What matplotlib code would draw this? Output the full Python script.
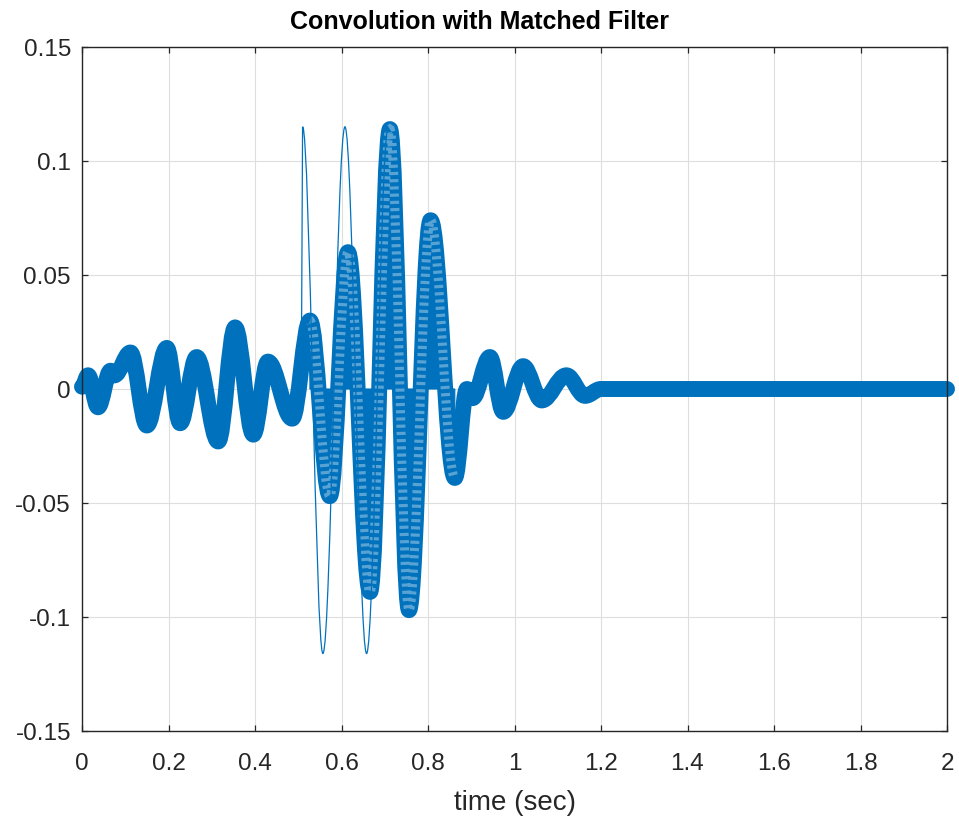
import matplotlib
matplotlib.use("Agg")
import matplotlib.pyplot as plt
from matplotlib.path import Path
from matplotlib.patches import PathPatch

plt.rcParams["font.family"] = ["Liberation Sans", "DejaVu Sans"]

# local extrema of the filter output (circle markers)
out_t = [0.000, 0.014, 0.037, 0.066, 0.075, 0.112, 0.150, 0.196, 0.227, 0.265,
         0.315, 0.354, 0.396, 0.430, 0.486, 0.527, 0.573, 0.615, 0.666, 0.712,
         0.756, 0.806, 0.862, 0.890, 0.903, 0.943, 0.974, 1.020, 1.063, 1.120,
         1.163, 1.200, 2.000]
out_v = [0.001, 0.006, -0.008, 0.008, 0.006, 0.016, -0.016, 0.018, -0.015, 0.014,
         -0.023, 0.027, -0.020, 0.012, -0.013, 0.030, -0.047, 0.060, -0.089, 0.114,
         -0.097, 0.074, -0.039, 0.000, -0.004, 0.014, -0.010, 0.010, -0.005, 0.006,
         -0.003, 0.000, 0.000]

# thin line (matched filter), extrema
mf_t = [0.500, 0.507, 0.510, 0.557, 0.608, 0.658, 0.708]
mf_v = [0.000, 0.000, 0.115, -0.116, 0.115, -0.116, 0.115]

x_ticks = [0, 0.2, 0.4, 0.6, 0.8, 1, 1.2, 1.4, 1.6, 1.8, 2]
x_labels = ["0", "0.2", "0.4", "0.6", "0.8", "1", "1.2", "1.4", "1.6", "1.8", "2"]
y_ticks = [-0.15, -0.1, -0.05, 0, 0.05, 0.1, 0.15]
y_labels = ["-0.15", "-0.1", "-0.05", "0", "0.05", "0.1", "0.15"]

blue = "#0072BD"


def smooth_path(ts, vs, closed_to_zero=False):
    # cubic bezier through the extrema, flat tangent at each one
    verts = [(ts[0], vs[0])]
    codes = [Path.MOVETO]
    for i in range(1, len(ts)):
        dt = ts[i] - ts[i - 1]
        if dt < 0.005:
            verts.append((ts[i], vs[i]))
            codes.append(Path.LINETO)
            continue
        verts += [(ts[i - 1] + 0.36 * dt, vs[i - 1]),
                  (ts[i] - 0.36 * dt, vs[i]),
                  (ts[i], vs[i])]
        codes += [Path.CURVE4] * 3
    if closed_to_zero:
        verts += [(ts[-1], 0), (ts[0], 0), (ts[0], vs[0])]
        codes += [Path.LINETO, Path.LINETO, Path.CLOSEPOLY]
    return Path(verts, codes)


fig = plt.figure(figsize=(9.59, 8.2), dpi=100)
ax = fig.add_axes([82 / 959, 88 / 820, 865 / 959, 684 / 820])

# solid lobes in the middle of the pulse
i0 = out_t.index(0.527)
i1 = out_t.index(0.862)
fill_path = smooth_path(out_t[i0:i1 + 1], out_v[i0:i1 + 1], closed_to_zero=True)
ax.add_patch(PathPatch(fill_path, facecolor=blue, edgecolor=blue, lw=0.8, zorder=2))

# dense circle markers -> thick band
band = PathPatch(smooth_path(out_t, out_v), fill=False, edgecolor=blue,
                 lw=11.5, capstyle="round", joinstyle="round", clip_on=False, zorder=2.1)
ax.add_patch(band)

# ring texture where the markers spread out
rings = PathPatch(smooth_path(out_t[i0:i1 + 1], out_v[i0:i1 + 1]), fill=False,
                  edgecolor="white", alpha=0.35, lw=6.5, linestyle=(0, (0.35, 0.45)),
                  capstyle="butt", zorder=2.2)
ax.add_patch(rings)

mf = PathPatch(smooth_path(mf_t, mf_v), fill=False, edgecolor=blue, lw=0.9, zorder=2.3)
ax.add_patch(mf)

ax.set_xlim(0, 2)
ax.set_ylim(-0.15, 0.15)
ax.set_xticks(x_ticks)
ax.set_xticklabels(x_labels)
ax.set_yticks(y_ticks)
ax.set_yticklabels(y_labels)
ax.grid(True, color="#dedede", linewidth=0.8)
ax.set_axisbelow(True)
ax.tick_params(direction="in", top=True, right=True, length=4, width=0.9,
               color="#262626", labelsize=17.5, labelcolor="#262626")
ax.tick_params(axis="x", pad=15)
ax.tick_params(axis="y", pad=8)
for s in ax.spines.values():
    s.set_color("#262626")
    s.set_linewidth(1.0)

ax.set_title("Convolution with Matched Filter", fontsize=18, fontweight="bold",
             pad=14, color="#000000", x=0.459)
ax.set_xlabel("time (sec)", fontsize=20, color="#262626", labelpad=11)

fig.savefig("out.png", dpi=100)
